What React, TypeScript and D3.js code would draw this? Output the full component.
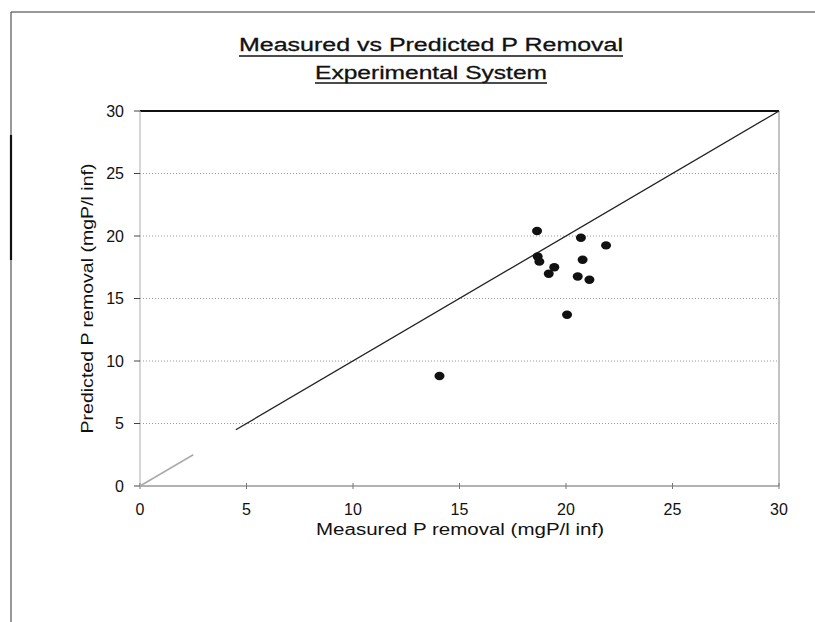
import React from "react";
import * as d3 from "d3";

const measured = [18.64, 20.7, 21.88, 18.67, 18.75, 20.78, 19.45, 19.19, 20.55, 21.1, 20.05, 14.06];
const predicted = [20.4, 19.86, 19.25, 18.36, 17.95, 18.1, 17.5, 16.98, 16.76, 16.5, 13.7, 8.8];
const xTicks = [0, 5, 10, 15, 20, 25, 30];
const yTicks = [0, 5, 10, 15, 20, 25, 30];
const gridValues = [5, 10, 15, 20, 25];
const lineSegmentsLight = [[0, 2.5]];
const lineSegmentsDark = [[4.5, 30]];
const titleLines = ["Measured vs Predicted P Removal", "Experimental System"];
const xTitle = "Measured P removal (mgP/l inf)";
const yTitle = "Predicted P removal (mgP/l inf)";

const W = 815;
const H = 622;
const FONT = "'Liberation Sans', Arial, sans-serif";

export default function App() {
  const x = d3.scaleLinear().domain([0, 30]).range([140, 779]);
  const y = d3.scaleLinear().domain([0, 30]).range([486, 111]);
  const [x0, x1] = x.range();
  const [y0, y1] = y.range();
  const diag = d3.line<number>().x((d) => x(d)).y((d) => y(d));

  return (
    <svg
      width={W}
      height={H}
      style={{ position: "absolute", left: 0, top: 0, background: "#fff" }}
      fontFamily={FONT}
    >
      {/* outer frame */}
      <line x1={11} y1={12} x2={W} y2={12} stroke="#333" strokeWidth={1.2} />
      <line x1={11} y1={12} x2={11} y2={H} stroke="#555" strokeWidth={1.2} />
      <line x1={11} y1={135} x2={11} y2={260} stroke="#111" strokeWidth={2.2} />

      {/* title */}
      <text x={431} y={51} textAnchor="middle" fontSize={18} fill="#111" textLength={384} lengthAdjust="spacingAndGlyphs" stroke="#111" strokeWidth={0.3}>
        {titleLines[0]}
      </text>
      <line x1={239} x2={623} y1={56} y2={56} stroke="#111" strokeWidth={1.3} />
      <text x={431} y={79} textAnchor="middle" fontSize={18} fill="#111" textLength={232} lengthAdjust="spacingAndGlyphs" stroke="#111" strokeWidth={0.3}>
        {titleLines[1]}
      </text>
      <line x1={315} x2={547} y1={83} y2={83} stroke="#111" strokeWidth={1.3} />

      {/* gridlines */}
      {gridValues.map((v) => (
        <line key={"g" + v} x1={x0} x2={x1} y1={y(v)} y2={y(v)} stroke="#999" strokeWidth={1} strokeDasharray="1,2" />
      ))}

      {/* plot frame */}
      <line x1={x0} x2={x1} y1={y1} y2={y1} stroke="#111" strokeWidth={1.8} />
      <line x1={x1} x2={x1} y1={y1} y2={y0} stroke="#999" strokeWidth={1.2} />
      <line x1={x0} x2={x0} y1={y1} y2={y0} stroke="#bbb" strokeWidth={1.2} />
      <line x1={x0} x2={x1} y1={y0} y2={y0} stroke="#999" strokeWidth={1.5} />

      {/* ticks */}
      {yTicks.map((v) => (
        <line key={"yt" + v} x1={x0 - 6} x2={x0} y1={y(v)} y2={y(v)} stroke="#444" strokeWidth={1} />
      ))}
      {xTicks.map((v) => (
        <line key={"xt" + v} x1={x(v)} x2={x(v)} y1={y0 - 3} y2={y0 + 3} stroke="#777" strokeWidth={1} />
      ))}

      {/* tick labels */}
      {yTicks.map((v) => (
        <text key={"yl" + v} x={124} y={y(v)} dy="0.35em" textAnchor="end" fontSize={16} fill="#111">
          {v}
        </text>
      ))}
      {xTicks.map((v) => (
        <text key={"xl" + v} x={x(v)} y={515} textAnchor="middle" fontSize={16} fill="#111">
          {v}
        </text>
      ))}

      {/* axis titles */}
      <text x={460} y={535} textAnchor="middle" fontSize={16} fill="#111" textLength={288} lengthAdjust="spacingAndGlyphs">
        {xTitle}
      </text>
      <text
        transform={`translate(93,${(y0 + y1) / 2}) rotate(-90)`}
        textAnchor="middle"
        fontSize={16}
        fill="#111"
        textLength={270}
        lengthAdjust="spacingAndGlyphs"
      >
        {yTitle}
      </text>

      {/* y = x line */}
      {lineSegmentsLight.map((s, i) => (
        <path key={"ll" + i} d={diag(s) || ""} stroke="#aaa" strokeWidth={1.5} fill="none" />
      ))}
      {lineSegmentsDark.map((s, i) => (
        <path key={"ld" + i} d={diag(s) || ""} stroke="#222" strokeWidth={1.3} fill="none" />
      ))}

      {/* points */}
      {measured.map((m, i) => (
        <ellipse key={"p" + i} cx={x(m)} cy={y(predicted[i])} rx={5} ry={4.2} fill="#111" />
      ))}
    </svg>
  );
}
